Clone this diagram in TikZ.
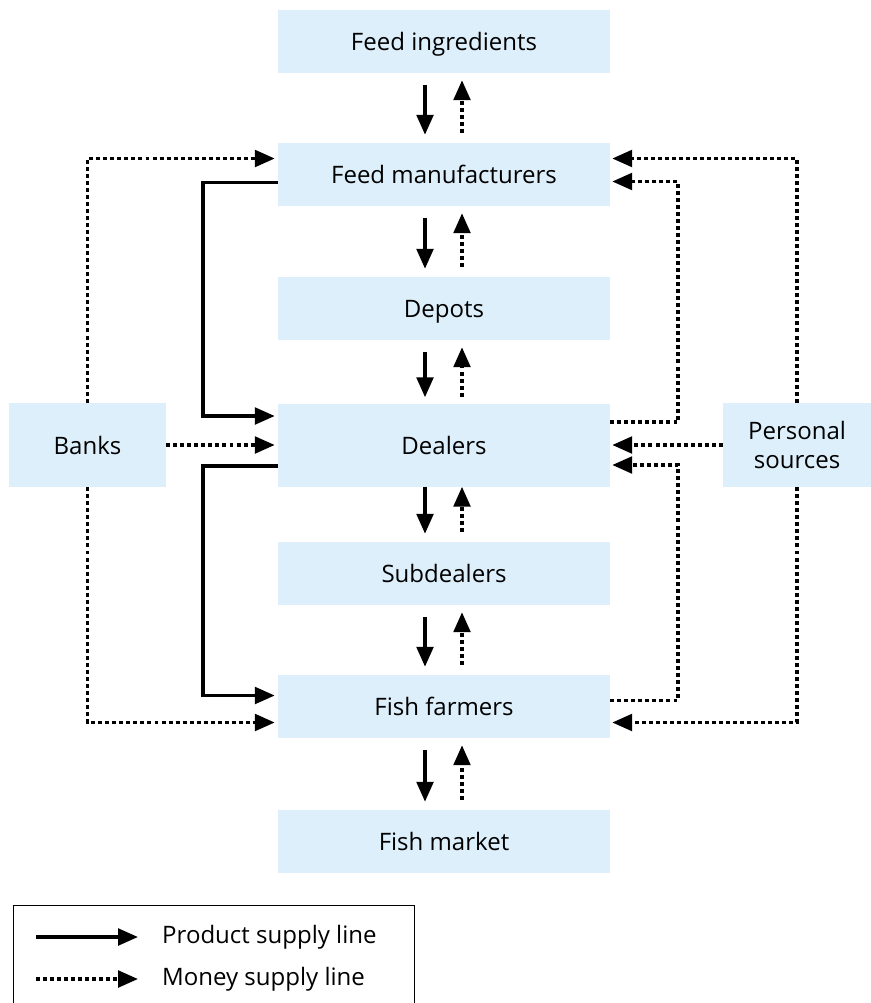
\documentclass[tikz,border=0pt]{standalone}
\usepackage{fontspec}
\setmainfont{Open Sans}
\usepackage{tikz}
\usetikzlibrary{arrows.meta,calc}

\definecolor{boxblue}{RGB}{221,239,250}

\begin{document}
\begin{tikzpicture}[x=0.03cm,y=-0.03cm,
    box/.style={fill=boxblue,minimum width=9.96cm,minimum height=1.89cm,inner sep=0pt,text height=0.62cm,text depth=0.08cm,font=\fontsize{20.5}{25}\selectfont},
    sidebox/.style={fill=boxblue,minimum height=2.52cm,inner sep=0pt,align=center,font=\fontsize{20.5}{25}\selectfont},
    prod/.style={line width=3pt,-{Triangle[length=0.6cm,width=0.5cm]}},
    money/.style={line width=3pt,dash pattern=on 3.4pt off 2.6pt,-{Triangle[length=0.6cm,width=0.5cm]}}]

        \useasboundingbox (0,0) rectangle (871,1003);

        % Main chain
        \node[box] (fi) at (444,41.5) {Feed ingredients};
        \node[box] (fm) at (444,174.5) {Feed manufacturers};
        \node[box] (dp) at (444,308.5) {Depots};
        \node[box,minimum height=2.49cm] (dl) at (444,445) {Dealers};
        \node[box] (sd) at (444,573.5) {Subdealers};
        \node[box] (ff) at (444,706.5) {Fish farmers};
        \node[box] (mk) at (444,841.5) {Fish market};

        % Side sources
        \node[sidebox,minimum width=4.71cm] (bk) at (87.5,445) {Banks};
        \node[sidebox,minimum width=4.44cm] (ps) at (797,445) {Personal\\sources};

        % Product down, money up between neighbours
        \draw[prod,shorten <=0.36cm,shorten >=0.24cm] ($(fi.south)+(-19,0)$) -- ($(fm.north)+(-19,0)$);
        \draw[money,shorten <=0.3cm,shorten >=0.21cm] ($(fm.north)+(18,0)$) -- ($(fi.south)+(18,0)$);
        \draw[prod,shorten <=0.36cm,shorten >=0.24cm] ($(fm.south)+(-19,0)$) -- ($(dp.north)+(-19,0)$);
        \draw[money,shorten <=0.3cm,shorten >=0.21cm] ($(dp.north)+(18,0)$) -- ($(fm.south)+(18,0)$);
        \draw[prod,shorten <=0.36cm,shorten >=0.18cm] ($(dp.south)+(-19,0)$) -- ($(dl.north)+(-19,0)$);
        \draw[money,shorten <=0.2cm,shorten >=0.21cm] ($(dl.north)+(18,0)$) -- ($(dp.south)+(18,0)$);
        \draw[prod,shorten <=0.0cm,shorten >=0.24cm] ($(dl.south)+(-19,0)$) -- ($(sd.north)+(-19,0)$);
        \draw[money,shorten <=0.3cm,shorten >=0.0cm] ($(sd.north)+(18,0)$) -- ($(dl.south)+(18,0)$);
        \draw[prod,shorten <=0.36cm,shorten >=0.24cm] ($(sd.south)+(-19,0)$) -- ($(ff.north)+(-19,0)$);
        \draw[money,shorten <=0.3cm,shorten >=0.21cm] ($(ff.north)+(18,0)$) -- ($(sd.south)+(18,0)$);
        \draw[prod,shorten <=0.36cm,shorten >=0.24cm] ($(ff.south)+(-19,0)$) -- ($(mk.north)+(-19,0)$);
        \draw[money,shorten <=0.3cm,shorten >=0.21cm] ($(mk.north)+(18,0)$) -- ($(ff.south)+(18,0)$);

        % Direct product lines on the left
        \draw[prod,shorten >=0.09cm] ($(fm.west)+(0,8)$) -- ++(-75,0) |- ($(dl.west)+(0,-29)$);
        \draw[prod,shorten >=0.09cm] ($(dl.west)+(0,21)$) -- ++(-75,0) |- ($(ff.west)+(0,-11)$);

        % Banks
        \draw[money,shorten >=0.09cm] (bk.north) |- ($(fm.west)+(0,-16)$);
        \draw[money,shorten >=0.09cm] (bk.east) -- (bk.east -| dl.west);
        \draw[money,shorten >=0.09cm] (bk.south) |- ($(ff.west)+(0,16)$);

        % Personal sources and money back from dealers and farmers
        \draw[money,shorten >=0.06cm] (ps.north) |- ($(fm.east)+(0,-16)$);
        \draw[money,shorten >=0.06cm] ($(dl.east)+(0,-23)$) -- ++(68,0) |- ($(fm.east)+(0,7)$);
        \draw[money,shorten >=0.06cm] (ps.west) -- (ps.west -| dl.east);
        \draw[money,shorten >=0.06cm] ($(ff.east)+(0,-6)$) -- ++(68,0) |- ($(dl.east)+(0,20)$);
        \draw[money,shorten >=0.06cm] (ps.south) |- ($(ff.east)+(0,16)$);

        % Legend
        \draw[line width=0.8pt] (13,1015) -- (13,905) -- (414,905) -- (414,1015);
        \coordinate (p1) at (36,937);
        \coordinate (p2) at (138,937);
        \coordinate (m1) at (36,979);
        \coordinate (m2) at (138,979);
        \draw[prod] (p1) -- (p2);
        \draw[money] (m1) -- (m2);
        \node[right,inner sep=0pt,font=\fontsize{20.5}{25}\selectfont] (pl) at (162,937) {Product supply line};
        \node[right,inner sep=0pt,font=\fontsize{20.5}{25}\selectfont] (ml) at (162,979) {Money supply line};

\end{tikzpicture}
\end{document}
